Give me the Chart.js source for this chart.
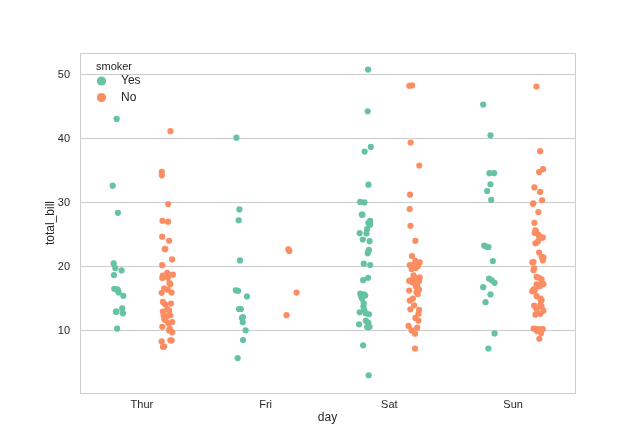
<!DOCTYPE html>
<html><head><meta charset="utf-8">
<script src="https://cdn.jsdelivr.net/npm/chart.js@4.4.1/dist/chart.umd.min.js"></script>
<style>html,body{margin:0;padding:0;background:#fff}#wrap{width:640px;height:440px;position:relative}</style>
</head><body><div id="wrap"><canvas id="c"></canvas></div>
<script>
// ---- data ----
const days = ['Thur', 'Fri', 'Sat', 'Sun'];
const smokerLevels = ['Yes', 'No'];
const legendTitle = 'smoker';
const xTitle = 'day';
const yTitle = 'total_bill';
const yTicks = [10, 20, 30, 40, 50];

const thurYes = [19.44, 32.68, 16.00, 19.81, 28.44, 15.48, 16.58, 10.34, 43.11, 13.00, 13.51, 18.71, 12.74, 13.00, 16.40, 20.53, 16.47];
const thurYesJitter = [0.036, -0.036, 0.012, -0.015, 0.006, 0.05, -0.023, 0.0, -0.004, -0.01, 0.041, -0.026, 0.047, -0.005, 0.006, -0.028, 0.0];
const thurNo = [27.20, 22.76, 17.29, 16.66, 10.07, 15.98, 34.83, 13.03, 18.28, 24.71, 21.16, 10.65, 12.43, 24.08, 11.69, 13.42, 14.26, 15.95, 12.48, 29.80, 8.52, 14.52, 11.38, 22.82, 19.08, 20.27, 11.17, 12.26, 18.26, 8.51, 10.33, 14.15, 13.16, 17.47, 34.30, 41.19, 27.05, 16.43, 8.35, 18.64, 11.87, 9.78, 7.51, 7.56, 18.78];
const thurNoJitter = [-0.033, -0.015, 0.03, -0.02, 0.02, 0.04, -0.039, -0.03, 0.01, -0.036, 0.044, -0.035, 0.03, 0.02, -0.01, 0.005, 0.035, -0.04, -0.025, 0.012, 0.03, -0.03, 0.045, -0.01, 0.005, -0.036, 0.015, 0.0, -0.035, 0.04, 0.025, -0.012, 0.02, 0.023, -0.039, 0.031, 0.012, 0.01, -0.04, -0.031, -0.02, 0.045, -0.03, -0.02, 0.05];
const friYes = [28.97, 5.75, 16.32, 40.17, 27.28, 12.03, 21.01, 11.35, 15.38, 12.16, 13.42, 8.58, 13.42, 16.27, 10.09];
const friYesJitter = [-0.012, -0.026, -0.04, -0.036, -0.018, 0.009, -0.007, 0.015, 0.049, 0.017, -0.015, 0.017, 0.0, -0.023, 0.039];
const friNo = [22.49, 22.75, 12.46, 15.98];
const friNoJitter = [-0.009, -0.017, -0.031, 0.05];
const satYes = [38.01, 11.24, 20.29, 13.81, 11.02, 18.29, 3.07, 15.01, 26.86, 25.28, 17.92, 44.30, 22.42, 15.36, 20.49, 25.21, 14.31, 10.59, 10.63, 50.81, 15.81, 26.59, 38.73, 24.27, 12.76, 30.06, 25.89, 13.27, 28.17, 12.90, 28.15, 11.59, 7.74, 30.14, 22.12, 24.01, 15.69, 15.53, 12.60, 32.83, 27.18, 22.67];
const satYesJitter = [0.0, 0.03, 0.045, -0.01, -0.045, 0.028, 0.033, -0.02, 0.03, -0.04, -0.012, 0.025, 0.03, -0.028, -0.007, 0.015, -0.007, 0.02, 0.04, 0.028, -0.035, 0.045, 0.05, -0.015, 0.01, -0.002, 0.02, -0.005, -0.023, -0.04, -0.018, 0.01, -0.012, -0.036, 0.025, 0.04, -0.005, 0.005, 0.035, 0.031, 0.045, 0.035];
const satNo = [20.65, 17.92, 20.29, 15.77, 39.42, 19.82, 17.81, 13.37, 12.69, 21.70, 19.65, 9.55, 18.35, 15.06, 20.69, 17.78, 24.06, 16.31, 16.93, 18.69, 31.27, 16.04, 26.41, 48.27, 17.59, 20.08, 16.45, 20.23, 12.02, 17.07, 14.73, 10.51, 20.92, 18.24, 14.00, 7.25, 48.33, 20.45, 13.28, 11.61, 10.77, 10.07, 35.83, 29.03, 17.82];
const satNoJitter = [0.02, -0.025, -0.035, 0.03, -0.028, 0.01, 0.04, -0.03, 0.035, -0.017, -0.02, 0.007, 0.045, -0.01, 0.045, 0.005, 0.01, -0.04, 0.015, -0.005, -0.033, 0.02, -0.03, -0.039, -0.015, 0.03, 0.04, -0.008, 0.01, 0.025, -0.035, 0.025, 0.01, 0.02, 0.0, 0.007, -0.017, 0.005, 0.04, 0.035, -0.045, -0.02, 0.042, -0.036, -0.04];
const sunYes = [17.51, 7.25, 31.85, 16.82, 32.90, 17.89, 14.48, 9.60, 34.63, 34.65, 23.33, 45.35, 23.17, 40.55, 20.90, 30.46, 18.15, 23.10, 15.69];
const sunYesJitter = [0.05, 0.0, -0.01, -0.042, 0.017, 0.028, -0.023, 0.05, 0.009, 0.047, -0.034, -0.042, -0.018, 0.017, 0.036, 0.023, 0.006, 0.001, 0.017];
const sunNo = [16.99, 10.34, 21.01, 23.68, 24.59, 25.29, 8.77, 26.88, 15.04, 14.78, 10.27, 35.26, 15.42, 18.43, 14.83, 21.58, 10.33, 16.29, 16.97, 17.46, 13.94, 9.68, 30.40, 18.29, 22.23, 32.40, 28.55, 18.04, 12.54, 10.29, 34.81, 9.94, 25.56, 19.49, 38.07, 23.95, 25.71, 17.31, 29.93, 14.07, 13.13, 17.26, 24.55, 19.77, 29.85, 48.17, 25.00, 13.39, 16.49, 21.50, 12.66, 16.21, 13.81, 24.52, 20.76, 31.71, 20.69];
const sunNoJitter = [0.0, -0.035, 0.04, -0.02, 0.04, -0.025, 0.012, -0.028, 0.02, 0.03, 0.01, 0.042, -0.01, -0.01, 0.025, 0.03, -0.02, -0.025, 0.015, 0.035, -0.03, 0.025, 0.034, 0.01, 0.01, -0.028, 0.004, 0.03, -0.02, 0.04, 0.01, -0.005, -0.015, -0.035, 0.018, 0.0, -0.02, 0.045, -0.036, 0.02, 0.045, -0.01, 0.03, -0.03, -0.04, -0.012, 0.005, -0.01, -0.035, 0.045, 0.02, -0.045, 0.03, 0.012, -0.035, 0.018, -0.045];

const yesByDay = [[thurYes, thurYesJitter], [friYes, friYesJitter], [satYes, satYesJitter], [sunYes, sunYesJitter]];
const noByDay = [[thurNo, thurNoJitter], [friNo, friNoJitter], [satNo, satNoJitter], [sunNo, sunNoJitter]];

// ---- styling ----
const colors = ['#66c2a5', '#fc8d62'];
const hueOffset = [-0.2, 0.2];
const textColor = '#262626';
const gridColor = '#cccccc';
const FONT = "'Liberation Sans', Arial, sans-serif";

function pointsFor(groups, h) {
  const pts = [];
  groups.forEach(([vals, jit], d) => {
    vals.forEach((v, k) => pts.push({x: d + hueOffset[h] + jit[k], y: v}));
  });
  return pts;
}

const framePlugin = {
  id: 'frame',
  beforeDatasetsDraw(chart) {
    const {ctx, chartArea: a} = chart;
    ctx.save();
    ctx.strokeStyle = gridColor;
    ctx.lineWidth = 1;
    ctx.strokeRect(Math.round(a.left) + 0.5, Math.round(a.top) + 0.5, Math.round(a.right - a.left), Math.round(a.bottom - a.top));
    ctx.restore();
  }
};

const legendPlugin = {
  id: 'innerLegend',
  afterDraw(chart) {
    const {ctx, chartArea: a} = chart;
    ctx.save();
    ctx.fillStyle = textColor;
    ctx.textBaseline = 'middle';
    ctx.font = '11px ' + FONT;
    ctx.textAlign = 'center';
    ctx.fillText(legendTitle, a.left + 34, a.top + 14);
    ctx.textAlign = 'left';
    ctx.font = '12px ' + FONT;
    chart.data.datasets.forEach((ds, i) => {
      const cy = a.top + 28 + i * 16.5;
      ctx.beginPath();
      ctx.fillStyle = ds.backgroundColor;
      ctx.arc(a.left + 21.5, cy, 4.6, 0, Math.PI * 2);
      ctx.fill();
      ctx.fillStyle = textColor;
      ctx.fillText(ds.label, a.left + 41, cy);
    });
    ctx.restore();
  }
};

new Chart(document.getElementById('c'), {
  type: 'scatter',
  data: {
    datasets: [
      {label: smokerLevels[0], data: pointsFor(yesByDay, 0), backgroundColor: colors[0], borderWidth: 0, pointRadius: 3.1, pointHoverRadius: 3.1},
      {label: smokerLevels[1], data: pointsFor(noByDay, 1), backgroundColor: colors[1], borderWidth: 0, pointRadius: 3.1, pointHoverRadius: 3.1}
    ]
  },
  options: {
    responsive: true,
    maintainAspectRatio: false,
    animation: false,
    events: [],
    layout: {padding: {left: 0, right: 65, top: 53, bottom: 0}},
    plugins: {legend: {display: false}, tooltip: {enabled: false}},
    scales: {
      x: {
        type: 'linear', min: -0.5, max: 3.5,
        afterBuildTicks(s) { s.ticks = days.map((_, i) => ({value: i})); },
        afterFit(s) { s.height = 47; },
        grid: {display: false, drawTicks: false},
        border: {display: false},
        ticks: {color: textColor, font: {family: FONT, size: 11}, padding: 5, maxRotation: 0, autoSkip: false,
          callback: (v) => days[v]},
        title: {display: true, text: xTitle, color: textColor, font: {family: FONT, size: 12}, padding: {top: 0, bottom: 15}}
      },
      y: {
        type: 'linear', min: 0.3, max: 53.4,
        afterBuildTicks(s) { s.ticks = yTicks.map(v => ({value: v})); },
        afterFit(s) { s.width = 80; },
        grid: {color: gridColor, lineWidth: 1, drawTicks: false},
        border: {display: false},
        ticks: {color: textColor, font: {family: FONT, size: 11}, padding: 10},
        title: {display: true, text: yTitle, color: textColor, font: {family: FONT, size: 12}, padding: {top: 43, bottom: 0}}
      }
    }
  },
  plugins: [framePlugin, legendPlugin]
});
</script>
</body></html>
